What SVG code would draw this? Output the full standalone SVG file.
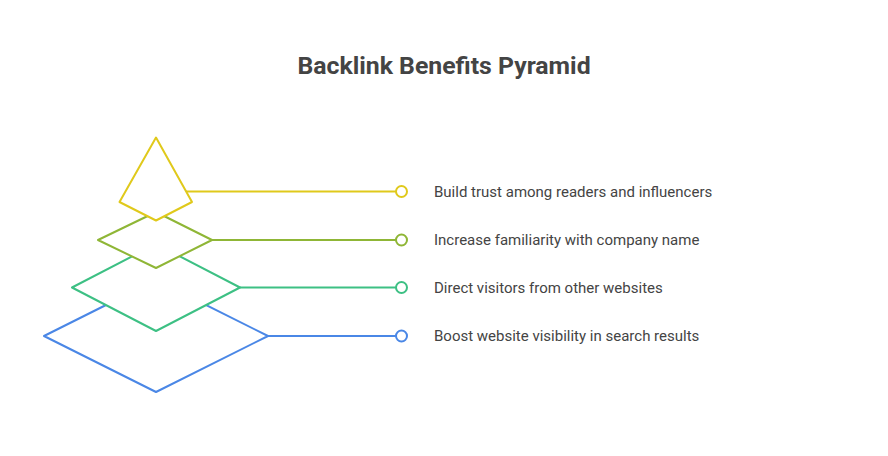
<svg xmlns="http://www.w3.org/2000/svg" width="888" height="456" viewBox="0 0 888 456">
<style>
.s{fill:#fff;stroke-width:2;stroke-linejoin:round}
.c{fill:#fff;stroke-width:2}
.t{font-family:Roboto,"Liberation Sans",sans-serif;font-size:15px;fill:#444}
</style>
<rect width="888" height="456" fill="#fff"/>
<text x="444" y="74" text-anchor="middle" font-family="Roboto,'Liberation Sans',sans-serif" font-size="24.8" font-weight="bold" fill="#444">Backlink Benefits Pyramid</text>
<g id="connectors">
<line x1="186" y1="191.5" x2="396" y2="191.5" stroke="#e0c91b" stroke-width="2"/>
<line x1="212" y1="240" x2="396" y2="240" stroke="#8fb636" stroke-width="2"/>
<line x1="240" y1="287.5" x2="396" y2="287.5" stroke="#3dc084" stroke-width="2"/>
<line x1="268" y1="336" x2="396" y2="336" stroke="#4a87e6" stroke-width="2"/>
</g>
<g id="level4"><polygon class="s" stroke="#4a87e6" points="156,280 268,336 156,392 44,336"/><circle class="c" stroke="#4a87e6" cx="401.5" cy="336" r="5.5"/><text class="t" x="434" y="341">Boost website visibility in search results</text></g>
<g id="level3"><polygon class="s" stroke="#3dc084" points="156,244 240,287.5 156,331 72,287.5"/><circle class="c" stroke="#3dc084" cx="401.5" cy="287.5" r="5.5"/><text class="t" x="434" y="292.5">Direct visitors from other websites</text></g>
<g id="level2"><polygon class="s" stroke="#8fb636" points="156,212 212,240 156,268 98,240"/><circle class="c" stroke="#8fb636" cx="401.5" cy="240" r="5.5"/><text class="t" x="434" y="245">Increase familiarity with company name</text></g>
<g id="level1"><polygon class="s" stroke="#e0c91b" points="156,137.5 192,202 156,220.5 119.5,202"/><circle class="c" stroke="#e0c91b" cx="401.5" cy="191.5" r="5.5"/><text class="t" x="434" y="196.5">Build trust among readers and influencers</text></g>
</svg>
